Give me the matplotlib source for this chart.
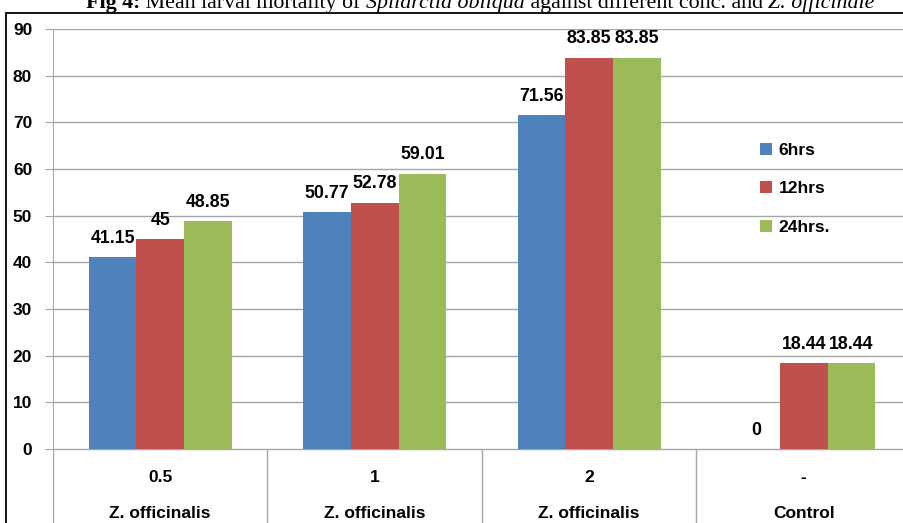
import matplotlib
matplotlib.use("Agg")
import matplotlib.pyplot as plt
from matplotlib.patches import Rectangle
import numpy as np

concs = ["0.5", "1", "2", "-"]
plants = ["Z. officinalis", "Z. officinalis", "Z. officinalis", "Control"]
series = ["6hrs", "12hrs", "24hrs."]
hrs6 = [41.15, 50.77, 71.56, 0]
hrs12 = [45, 52.78, 83.85, 18.44]
hrs24 = [48.85, 59.01, 83.85, 18.44]
colors = ["#4F81BD", "#C0504D", "#9BBB59"]

W, H = 904, 523
fig = plt.figure(figsize=(W / 100, H / 100), dpi=100)
fig.patch.set_facecolor("white")
FONT = "Liberation Sans"


def px(x0, y0, x1, y1):
    # pixel box -> figure fraction [left, bottom, width, height]
    return [x0 / W, 1 - y1 / H, (x1 - x0) / W, (y1 - y0) / H]


# outer frame
fig.add_artist(Rectangle((6 / W, -0.1), 1.2, 1 - 13 / H + 0.1, transform=fig.transFigure,
                         fill=False, edgecolor="black", linewidth=1.3))

ax = fig.add_axes(px(53, 29, 911, 449))
ax.set_xlim(0, 4)
ax.set_ylim(0, 90)
ax.set_yticks(range(0, 100, 10))
ax.yaxis.grid(True, color="#A6A6A6", linewidth=1)
ax.set_axisbelow(True)
for s in ["top", "right", "bottom"]:
    ax.spines[s].set_visible(False)
ax.spines["left"].set_color("#A6A6A6")
ax.tick_params(axis="y", length=6, color="#A6A6A6", labelsize=12.5, pad=9)
for t in ax.get_yticklabels():
    t.set_fontweight("bold")
    t.set_family(FONT)
ax.set_xticks([])

bw = 1 / 4.5
x = np.arange(len(concs)) + 0.5
for i, (vals, c) in enumerate(zip([hrs6, hrs12, hrs24], colors)):
    xs = x + (i - 1) * bw
    ax.bar(xs, vals, bw, color=c, label=series[i], zorder=2)
    for xi, v in zip(xs, vals):
        ax.text(xi, v + 2.2, f"{v:g}", ha="center", va="bottom", fontsize=12.8,
                fontweight="bold", family=FONT)

# category axis below the plot
cat_ax = fig.add_axes(px(53, 449, 911, 530))
cat_ax.set_xlim(0, 4)
cat_ax.set_ylim(0, 1)
cat_ax.axis("off")
cat_ax.axhline(1, color="#A6A6A6", linewidth=1)
for b in range(5):
    cat_ax.axvline(b, color="#A6A6A6", linewidth=1)
for i in range(4):
    cat_ax.text(i + 0.5, 1 - 28 / 81, concs[i], ha="center", va="center", fontsize=12.5,
                fontweight="bold", family=FONT)
    cat_ax.text(i + 0.5, 1 - 64 / 81, plants[i], ha="center", va="center", fontsize=12.5,
                fontweight="bold", family=FONT)

ax.legend(loc="upper left", bbox_to_anchor=((744 - 53) / 858, 1 - (127 - 29) / 420),
          frameon=False, handlelength=0.7, handleheight=0.7,
          handletextpad=0.4, labelspacing=1.35,
          prop={"weight": "bold", "family": FONT, "size": 12.5})

# caption, partially cut at the top edge
pieces = [("Fig 4:", "bold", "normal"), (" Mean larval mortality of ", "normal", "normal"),
          ("Spilarctia obliqua", "normal", "italic"),
          (" against different conc. and ", "normal", "normal"),
          ("Z. officinale", "normal", "italic")]
fig.canvas.draw()
r = fig.canvas.get_renderer()
xpos = 86 / W
for txt, wt, st in pieces:
    t = fig.text(xpos, 1 - 8 / H, txt, fontsize=15.8, fontweight=wt, style=st,
                 family="Liberation Serif", ha="left", va="baseline")
    xpos += t.get_window_extent(r).width / W

fig.savefig("out.png", dpi=100)
